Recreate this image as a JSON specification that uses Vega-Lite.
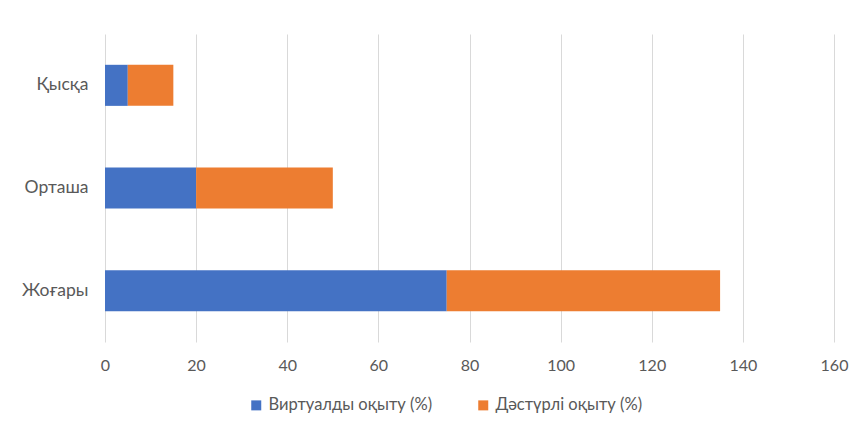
{
  "$schema": "https://vega.github.io/schema/vega-lite/v6.json",
  "autosize": "none",
  "width": 729,
  "height": 308,
  "padding": {"left": 105, "top": 34, "right": 30, "bottom": 86},
  "background": "white",
  "config": {
    "view": {"stroke": null},
    "font": "Lato",
    "axis": {"labelFont": "Lato", "labelColor": "#595959", "labelFontSize": 16},
    "legend": {"labelFont": "Lato", "labelColor": "#595959", "labelFontSize": 16.5, "labelLimit": 400}
  },
  "data": {
    "values": [
      {"level": "Қысқа", "type": "Виртуалды оқыту (%)", "ord": 1, "value": 5},
      {"level": "Қысқа", "type": "Дәстүрлі оқыту (%)", "ord": 2, "value": 10},
      {"level": "Орташа", "type": "Виртуалды оқыту (%)", "ord": 1, "value": 20},
      {"level": "Орташа", "type": "Дәстүрлі оқыту (%)", "ord": 2, "value": 30},
      {"level": "Жоғары", "type": "Виртуалды оқыту (%)", "ord": 1, "value": 75},
      {"level": "Жоғары", "type": "Дәстүрлі оқыту (%)", "ord": 2, "value": 60}
    ]
  },
  "mark": {"type": "bar"},
  "encoding": {
    "y": {
      "field": "level", "type": "nominal",
      "sort": ["Қысқа", "Орташа", "Жоғары"],
      "scale": {"paddingInner": 0.6, "paddingOuter": 0.3},
      "axis": {"title": null, "domain": false, "ticks": false, "labelPadding": 17, "labelFontSize": 17.5, "grid": false}
    },
    "x": {
      "field": "value", "type": "quantitative", "stack": "zero",
      "scale": {"domain": [0, 160], "nice": false},
      "axis": {"title": null, "domain": false, "ticks": false, "values": [0,20,40,60,80,100,120,140,160],
               "labelOverlap": false, "labelFlush": false,
               "grid": true, "gridColor": "#d9d9d9", "gridWidth": 1, "labelPadding": 15}
    },
    "color": {
      "field": "type", "type": "nominal",
      "scale": {"domain": ["Виртуалды оқыту (%)", "Дәстүрлі оқыту (%)"], "range": ["#4472C4", "#ED7D31"]},
      "legend": {"title": null, "orient": "none", "legendX": 143, "legendY": 363, "direction": "horizontal", "symbolType": "square", "symbolSize": 100, "symbolStrokeWidth": 0, "columnPadding": 42, "labelOffset": 4, "labelLimit": 400}
    },
    "order": {"field": "ord", "type": "quantitative"}
  }
}
